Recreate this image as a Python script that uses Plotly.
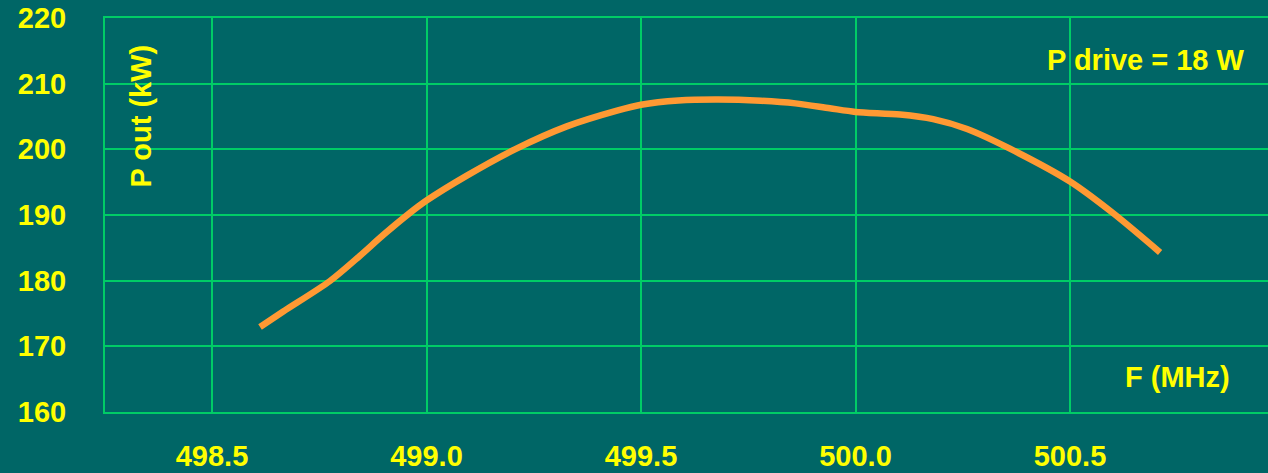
import plotly.graph_objects as go

freq_mhz = [498.612, 498.666, 498.775, 498.845, 498.899, 498.957, 499.0, 499.094, 499.206,
            499.327, 499.444, 499.5, 499.587, 499.68, 499.78, 499.86, 499.94, 500.0,
            500.104, 500.181, 500.26, 500.36, 500.5, 500.60, 500.71]
p_out_kw = [172.95, 175.3, 179.95, 183.8, 186.95, 190.1, 192.2, 196.0, 200.0,
            203.5, 205.9, 206.8, 207.45, 207.6, 207.4, 207.0, 206.25, 205.7,
            205.3, 204.6, 203.1, 200.1, 195.1, 190.3, 184.3]

x_ticks = [498.5, 499.0, 499.5, 500.0, 500.5]
x_tick_labels = ["498.5", "499.0", "499.5", "500.0", "500.5"]
y_ticks = [160, 170, 180, 190, 200, 210, 220]

BG = "#006666"
GRID = "#00CC66"
YELLOW = "#FFFF00"
FONT = "Liberation Sans, Arial, sans-serif"
FS = 29

fig = go.Figure()
fig.add_trace(go.Scatter(
    x=freq_mhz, y=p_out_kw, mode="lines",
    line=dict(color="#FF9933", width=6.5, shape="spline", smoothing=0.8),
    hoverinfo="skip", showlegend=False,
))

fig.update_layout(
    width=1268, height=473,
    margin=dict(l=105, r=0, t=18, b=61),
    paper_bgcolor=BG, plot_bgcolor=BG,
    font=dict(family=FONT, size=FS, color=YELLOW),
    showlegend=False,
)
fig.update_xaxes(
    range=[498.2506, 500.9615], tickvals=x_ticks, ticktext=x_tick_labels,
    showgrid=True, gridcolor=GRID, gridwidth=2, zeroline=False,
    showline=True, mirror=True, linecolor=GRID, linewidth=2,
    ticks="outside", ticklen=17, tickcolor=BG,
    automargin=False,
    tickfont=dict(family=FONT, size=FS, color=YELLOW, weight="bold"),
)
fig.update_yaxes(
    range=[160, 220], tickvals=y_ticks,
    showgrid=True, gridcolor=GRID, gridwidth=2, zeroline=False,
    showline=True, mirror=False, linecolor=GRID, linewidth=2,
    ticks="outside", ticklen=31, tickcolor=BG,
    automargin=False,
    tickfont=dict(family=FONT, size=FS, color=YELLOW, weight="bold"),
)

fig.add_annotation(x=498.334, y=205.1, xref="x", yref="y", text="<b>P out (kW)</b>",
                   textangle=-90, showarrow=False,
                   font=dict(family=FONT, size=FS, color=YELLOW))
fig.add_annotation(x=500.9126, y=213.6, xref="x", yref="y", text="<b>P drive = 18 W</b>",
                   xanchor="right", showarrow=False,
                   font=dict(family=FONT, size=FS, color=YELLOW))
fig.add_annotation(x=500.878, y=165.33, xref="x", yref="y", text="<b>F (MHz)</b>",
                   xanchor="right", showarrow=False,
                   font=dict(family=FONT, size=FS, color=YELLOW))

fig.write_html(
    "out.html",
    config={"displayModeBar": False},
    post_script="document.body.style.margin='0';document.body.style.background='#006666';"
                "window.dispatchEvent(new Event('resize'));",
)
